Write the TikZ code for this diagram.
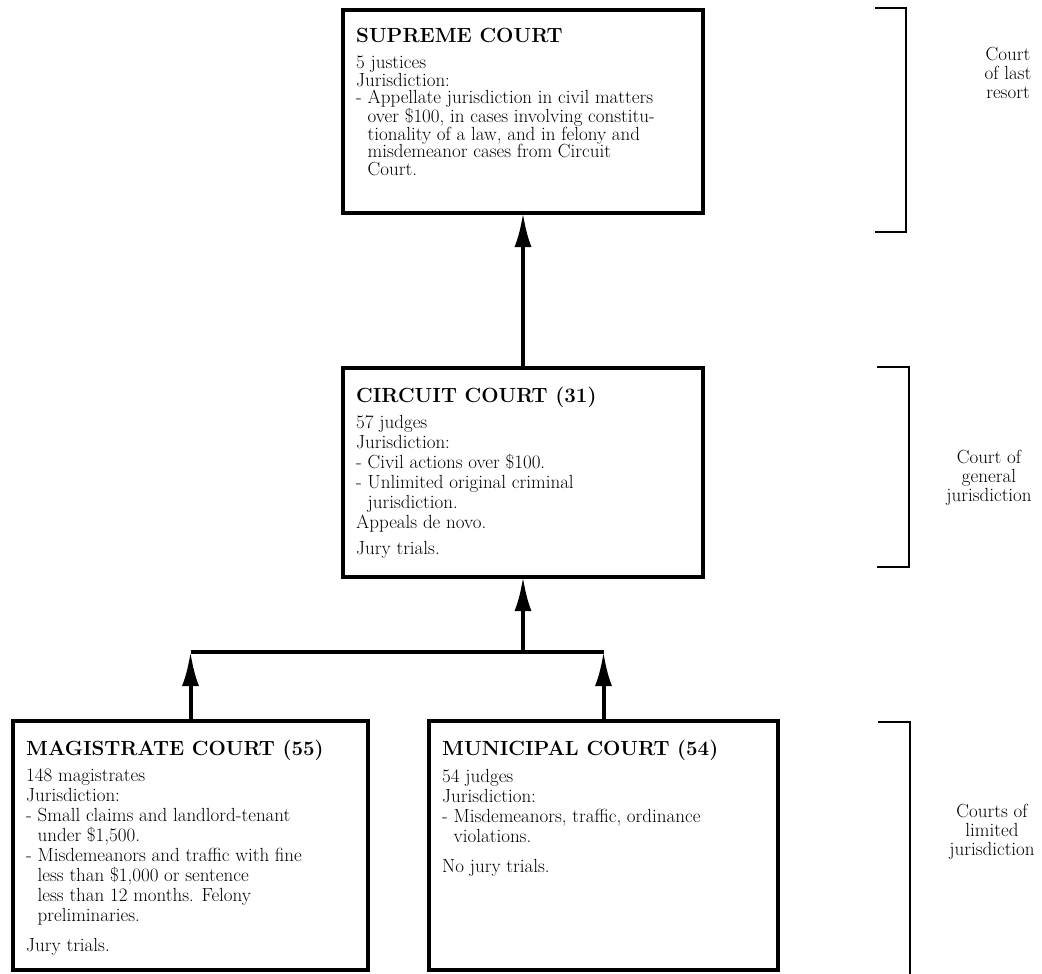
\documentclass[tikz,border=0pt]{standalone}
\usetikzlibrary{arrows.meta}
\begin{document}
\begin{tikzpicture}[x=1pt,y=-1pt,
  court/.style={draw, line width=3.2pt, inner sep=0pt, outer sep=0pt, anchor=north west},
  ttl/.style={anchor=base west, inner sep=0pt, font=\fontsize{20.5}{22}\selectfont\bfseries},
  body/.style={anchor=north west, inner sep=0pt, align=left, font=\fontsize{19}{20}\selectfont},
  bodytight/.style={body, font=\fontsize{19}{17.5}\selectfont},
  conn/.style={line width=4pt, -{Latex[length=34pt,width=17pt]}},
  junc/.style={line width=4pt},
  brk/.style={line width=2.8pt},
  lbl/.style={align=center, inner sep=0pt, font=\fontsize{19}{19}\selectfont}]
\useasboundingbox (0,0) rectangle (1042,974);

% boxes
\node[court, minimum width=360pt, minimum height=203pt] (sup) at (343,10) {};
\node[court, minimum width=360pt, minimum height=209pt] (cir) at (343,368) {};
\node[court, minimum width=355pt, minimum height=249pt] (mag) at (13,721) {};
\node[court, minimum width=349pt, minimum height=249pt] (mun) at (429,721) {};

% titles
\node[ttl] (supt) at ([xshift=13pt,yshift=-33pt]sup.north west) {SUPREME COURT};
\node[ttl] (cirt) at ([xshift=13pt,yshift=-34pt]cir.north west) {CIRCUIT COURT (31)};
\node[ttl] (magt) at ([xshift=13pt,yshift=-34pt]mag.north west) {MAGISTRATE COURT (55)};
\node[ttl] (munt) at ([xshift=13pt,yshift=-34pt]mun.north west) {MUNICIPAL COURT (54)};

% bodies
\node[bodytight] (supb) at ([xshift=13pt,yshift=-46pt]sup.north west) {5 justices\\
Jurisdiction:\\
-~Appellate jurisdiction in civil matters\\
\hphantom{-~}over \$100, in cases involving constitu-\\
\hphantom{-~}tionality of a law, and in felony and\\
\hphantom{-~}misdemeanor cases from Circuit\\
\hphantom{-~}Court.};

\node[body] (cirb) at ([xshift=13pt,yshift=-47pt]cir.north west) {57 judges\\
Jurisdiction:\\
-~Civil actions over \$100.\\
-~Unlimited original criminal\\
\hphantom{-~}jurisdiction.\\
Appeals de novo.\\[6pt]
Jury trials.};

\node[body] (magb) at ([xshift=13pt,yshift=-48pt]mag.north west) {148 magistrates\\
Jurisdiction:\\
-~Small claims and landlord-tenant\\
\hphantom{-~}under \$1,500.\\
-~Misdemeanors and traffic with fine\\
\hphantom{-~}less than \$1,000 or sentence\\
\hphantom{-~}less than 12 months. Felony\\
\hphantom{-~}preliminaries.\\[10pt]
Jury trials.};

\node[body] (munb) at ([xshift=13pt,yshift=-48pt]mun.north west) {54 judges\\
Jurisdiction:\\
-~Misdemeanors, traffic, ordinance\\
\hphantom{-~}violations.\\[10pt]
No jury trials.};

% connectors
\coordinate (jl) at (mag.north |- 0,652);
\coordinate (jr) at (mun.north |- 0,652);
\coordinate (jc) at (cir.south |- 0,652);
\draw[conn] (cir.north) -- (sup.south);
\draw[conn] (jc) -- (cir.south);
\draw[junc] (jl) -- (jr);
\draw[conn] (mag.north) -- (jl);
\draw[conn] (mun.north) -- (jr);

% brackets
\draw[brk] (875,8) -- (906,8) -- (906,232) -- (875,232);
\draw[brk] (877,367) -- (909,367) -- (909,567) -- (877,567);
\draw[brk] (878,722) -- (910,722) -- (910,974);

% bracket labels
\node[lbl] (l1) at (1008,73) {Court\\of last\\resort};
\node[lbl] (l2) at (989,478) {Court of\\general\\jurisdiction};
\node[lbl] (l3) at (992,832) {Courts of\\limited\\jurisdiction};
\end{tikzpicture}
\end{document}
